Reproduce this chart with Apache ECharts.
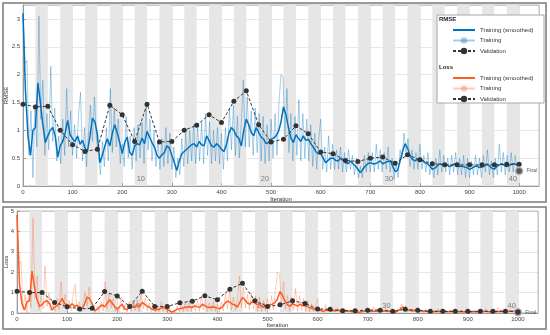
<!DOCTYPE html>
<html><head><meta charset="utf-8">
<script src="https://cdn.jsdelivr.net/npm/echarts@6/dist/echarts.min.js"></script>
<style>html,body{margin:0;padding:0;background:#fff}#c{width:550px;height:335px}</style>
</head><body><div id="c"></div>
<script>
// ---- data ----
const rawStep = 4, smoothStep = 5, valStep = 25;
const itersPerEpoch = 25, numEpochs = 40;
const epochLabels = [10, 20, 30, 40];
const xMax = 1040;
const finalIter = 1000;

const rmseRaw = [3.10,2.20,2.25,0.55,1.35,0.15,1.45,0.70,3.05,1.20,1.90,0.55,1.30,0.65,2.15,0.80,1.40,0.45,0.90,0.40,1.20,0.55,1.75,0.70,1.35,
0.55,1.10,0.50,1.30,1.68,0.45,1.05,0.35,0.95,1.45,0.80,1.60,0.85,0.55,0.20,0.80,0.35,1.05,0.45,1.75,0.60,1.40,0.70,1.20,0.40,
0.75,0.35,1.25,0.50,0.90,0.30,1.05,0.45,1.10,0.50,1.15,0.40,1.50,0.65,1.20,0.45,1.00,0.35,0.80,0.30,0.85,0.35,1.05,0.40,0.95,
0.30,0.70,0.15,0.50,0.20,0.85,0.35,0.95,0.40,1.00,0.45,1.10,0.40,1.05,0.45,1.15,0.40,1.30,0.55,1.15,0.40,1.00,0.45,1.05,0.40,
0.95,0.30,1.05,0.45,1.40,0.65,1.45,0.55,1.25,0.50,1.15,1.90,0.70,1.60,0.70,1.35,0.55,1.40,0.60,1.30,0.45,1.25,0.40,1.10,0.45,
1.20,0.50,1.30,0.55,1.50,2.00,1.95,0.90,1.75,0.60,1.30,0.45,1.25,0.55,1.55,0.45,1.30,0.50,1.20,0.45,1.10,0.35,0.95,0.30,0.85,
1.20,0.30,0.70,0.25,0.90,0.30,0.75,0.30,0.65,0.30,0.70,0.25,0.60,0.25,0.65,0.30,0.55,0.20,0.50,0.15,0.35,0.15,0.55,0.25,0.60,
0.25,0.60,0.25,0.75,0.30,0.65,0.25,0.60,0.30,0.70,0.25,0.50,0.12,0.40,0.15,0.65,0.50,0.95,0.60,0.85,0.35,0.65,0.30,0.60,0.30,
0.75,0.30,0.55,0.25,0.60,0.20,0.45,0.15,0.50,0.20,0.65,0.25,0.55,0.25,0.50,0.20,0.55,0.25,0.60,0.20,0.50,0.20,0.55,0.15,0.50,
0.15,0.45,0.20,0.55,0.20,0.50,0.15,0.55,0.25,0.65,0.20,0.45,0.15,0.50,0.20,0.75,0.25,0.60,0.20,0.55,0.25,0.60,0.25,0.55,0.30,0.40];

const rmseSmooth = [3.10,1.70,0.90,0.55,1.00,1.05,1.85,1.50,1.10,0.78,0.90,1.00,1.05,0.90,0.52,0.72,0.80,0.95,1.18,0.92,
0.85,0.80,0.90,0.75,0.82,0.68,0.62,0.90,1.22,1.15,0.92,0.42,0.55,0.72,0.85,0.72,0.95,1.10,0.95,0.78,
0.58,0.78,0.88,0.60,0.55,0.72,0.76,0.74,0.86,0.76,0.98,0.88,0.78,0.70,0.55,0.50,0.56,0.60,0.72,0.68,
0.55,0.42,0.28,0.45,0.58,0.62,0.66,0.70,0.74,0.76,0.70,0.80,0.74,0.72,0.90,0.82,0.72,0.70,0.76,0.72,
0.66,0.62,0.74,0.95,1.05,1.00,0.90,0.86,0.72,1.00,1.20,1.10,0.96,0.90,1.05,0.96,0.88,0.84,0.76,0.78,
0.84,0.86,0.90,0.98,1.15,1.42,1.28,1.05,0.86,0.78,0.92,0.86,0.80,0.90,0.82,0.84,0.76,0.70,0.62,0.58,
0.58,0.50,0.42,0.46,0.50,0.50,0.46,0.45,0.50,0.46,0.42,0.40,0.45,0.40,0.36,0.30,0.24,0.30,0.36,0.40,
0.42,0.40,0.40,0.42,0.45,0.40,0.42,0.44,0.45,0.36,0.26,0.28,0.45,0.62,0.76,0.68,0.55,0.48,0.45,0.48,
0.50,0.46,0.42,0.40,0.36,0.30,0.32,0.36,0.40,0.38,0.40,0.38,0.35,0.37,0.40,0.38,0.35,0.36,0.34,0.33,
0.30,0.32,0.35,0.36,0.33,0.34,0.36,0.40,0.36,0.32,0.30,0.35,0.38,0.40,0.37,0.35,0.37,0.39,0.40,0.38,
0.38];

const rmseVal = [1.47,1.42,1.43,1.00,0.74,0.62,0.66,1.45,1.28,0.80,1.47,0.79,0.80,1.00,1.09,1.28,1.14,1.52,1.71,1.10,
0.79,0.84,1.08,0.94,0.61,0.58,0.46,0.44,0.50,0.52,0.41,0.56,0.47,0.40,0.38,0.38,0.38,0.38,0.38,0.39,0.39];
const rmseFinal = 0.27;

const lossRaw = [4.81,2.42,2.53,0.15,0.91,0.01,1.05,0.25,4.65,0.72,1.81,0.15,0.85,0.21,2.31,0.32,0.98,0.10,0.41,0.08,0.72,0.15,1.53,0.25,0.91,
0.15,0.61,0.13,0.85,1.41,0.10,0.55,0.06,0.45,1.05,0.32,1.28,0.36,0.15,0.02,0.32,0.06,0.55,0.10,1.53,0.18,0.98,0.25,0.72,0.08,
0.28,0.06,0.78,0.13,0.41,0.05,0.55,0.10,0.61,0.13,0.66,0.08,1.13,0.21,0.72,0.10,0.50,0.06,0.32,0.05,0.36,0.06,0.55,0.08,0.45,
0.05,0.25,0.01,0.13,0.02,0.36,0.06,0.45,0.08,0.50,0.10,0.61,0.08,0.55,0.10,0.66,0.08,0.85,0.15,0.66,0.08,0.50,0.10,0.55,0.08,
0.45,0.05,0.55,0.10,0.98,0.21,1.05,0.15,0.78,0.13,0.66,1.81,0.25,1.28,0.25,0.91,0.15,0.98,0.18,0.85,0.10,0.78,0.08,0.61,0.10,
0.72,0.13,0.85,0.15,1.13,2.00,1.90,0.41,1.53,0.18,0.85,0.10,0.78,0.15,1.20,0.10,0.85,0.13,0.72,0.10,0.61,0.06,0.45,0.05,0.36,
0.72,0.05,0.25,0.03,0.41,0.05,0.28,0.05,0.21,0.05,0.25,0.03,0.18,0.03,0.21,0.05,0.15,0.02,0.13,0.01,0.06,0.01,0.15,0.03,0.18,
0.03,0.18,0.03,0.28,0.05,0.21,0.03,0.18,0.05,0.25,0.03,0.13,0.01,0.08,0.01,0.21,0.13,0.45,0.18,0.36,0.06,0.21,0.05,0.18,0.05,
0.28,0.05,0.15,0.03,0.18,0.02,0.10,0.01,0.13,0.02,0.21,0.03,0.15,0.03,0.13,0.02,0.15,0.03,0.18,0.02,0.13,0.02,0.15,0.01,0.13,
0.01,0.10,0.02,0.15,0.02,0.13,0.01,0.15,0.03,0.21,0.02,0.10,0.01,0.13,0.02,0.28,0.03,0.18,0.02,0.15,0.03,0.18,0.03,0.15,0.05,0.08];

const lossSmooth = [4.80,1.40,0.45,0.15,0.55,0.60,2.05,1.25,0.65,0.32,0.42,0.55,0.60,0.45,0.15,0.30,0.35,0.48,0.72,0.46,
0.40,0.35,0.45,0.32,0.38,0.26,0.22,0.45,0.78,0.70,0.46,0.10,0.18,0.30,0.40,0.30,0.48,0.65,0.48,0.32,
0.18,0.32,0.42,0.20,0.17,0.28,0.31,0.30,0.40,0.31,0.52,0.42,0.33,0.27,0.17,0.14,0.17,0.20,0.28,0.25,
0.17,0.10,0.04,0.12,0.19,0.21,0.24,0.27,0.30,0.31,0.27,0.35,0.30,0.28,0.43,0.36,0.28,0.27,0.31,0.28,
0.24,0.21,0.30,0.48,0.58,0.53,0.43,0.40,0.28,0.53,0.76,0.64,0.49,0.43,0.58,0.49,0.41,0.38,0.31,0.33,
0.38,0.40,0.43,0.51,0.70,1.05,0.86,0.58,0.40,0.33,0.46,0.40,0.34,0.43,0.36,0.37,0.31,0.26,0.21,0.18,
0.18,0.13,0.09,0.11,0.13,0.13,0.11,0.11,0.13,0.11,0.09,0.08,0.11,0.08,0.07,0.05,0.03,0.05,0.07,0.08,
0.09,0.08,0.08,0.09,0.10,0.08,0.09,0.10,0.10,0.07,0.04,0.04,0.10,0.19,0.29,0.23,0.15,0.12,0.10,0.12,
0.13,0.11,0.09,0.08,0.07,0.05,0.05,0.07,0.08,0.07,0.08,0.07,0.06,0.07,0.08,0.07,0.06,0.07,0.06,0.05,
0.05,0.05,0.06,0.07,0.05,0.06,0.07,0.08,0.07,0.05,0.05,0.06,0.07,0.08,0.07,0.06,0.07,0.08,0.08,0.07,
0.07];

const lossVal = [1.07,1.00,1.00,0.52,0.31,0.20,0.23,1.05,0.83,0.32,1.07,0.32,0.32,0.50,0.58,0.84,0.65,1.17,1.46,0.60,
0.32,0.40,0.60,0.47,0.19,0.18,0.11,0.11,0.14,0.14,0.08,0.18,0.13,0.08,0.08,0.08,0.08,0.08,0.08,0.08,0.08];
const lossFinal = 0.04;

const legendText = {
  rmseSmooth: 'Training (smoothed)', rmseRaw: 'Training', rmseVal: 'Validation',
  lossSmooth: 'Training (smoothed)', lossRaw: 'Training', lossVal: 'Validation'
};

// ---- build ----
const FONT = "'Liberation Sans', Arial, Helvetica, sans-serif";
const FS = 6;
const pairs = (arr, step) => arr.map((v, i) => [i * step, v]);
const plain = v => String(v);

function stripes() {
  const out = [];
  for (let e = 2; e <= numEpochs; e += 2) {
    const s = { xAxis: (e - 1) * itersPerEpoch };
    if (epochLabels.includes(e)) { s.name = String(e); s.label = { show: true }; }
    out.push([s, { xAxis: e * itersPerEpoch }]);
  }
  return out;
}

function stripeSeries(gi) {
  return {
    type: 'line', xAxisIndex: gi, yAxisIndex: gi, data: [[0, null]], symbol: 'none', z: -1, silent: true,
    markArea: {
      silent: true, itemStyle: { color: '#e6e6e6' },
      label: { show: false, position: 'insideBottom', distance: 3, color: '#7a7a7a', fontSize: 7.5, fontFamily: FONT, formatter: '{b}' },
      data: stripes()
    }
  };
}

function xAx(gi, gap) {
  return {
    type: 'value', gridIndex: gi, min: 0, max: xMax, interval: 100,
    name: 'Iteration', nameLocation: 'middle', nameGap: gap, nameMoveOverlap: false,
    nameTextStyle: { fontSize: FS, color: '#333', fontFamily: FONT },
    axisLine: { show: true, onZero: false, lineStyle: { color: '#9a9a9a', width: 1 } },
    axisTick: { show: true, inside: true, length: 3, lineStyle: { color: '#9a9a9a' } },
    axisLabel: { fontSize: FS, color: '#444', margin: 3, showMaxLabel: false, fontFamily: FONT, formatter: plain },
    splitLine: { show: true, lineStyle: { color: 'rgba(0,0,0,0.09)', width: 1 } }
  };
}
function yAx(gi, max, interval, name, gap, showMax) {
  return {
    type: 'value', gridIndex: gi, min: 0, max: max, interval: interval,
    name: name, nameLocation: 'middle', nameGap: gap, nameMoveOverlap: false,
    nameTextStyle: { fontSize: FS, color: '#333', fontFamily: FONT },
    axisLine: { show: true, lineStyle: { color: '#9a9a9a', width: 1 } },
    axisTick: { show: true, inside: true, length: 3, lineStyle: { color: '#9a9a9a' } },
    axisLabel: { fontSize: FS, color: '#444', margin: 3, showMaxLabel: showMax, fontFamily: FONT, formatter: plain },
    splitLine: { show: true, lineStyle: { color: 'rgba(0,0,0,0.09)', width: 1 } }
  };
}

function trainSeries(gi, nameRaw, nameSmooth, nameVal, raw, smooth, val, fin, color, lightColor) {
  return [
    { name: nameRaw, type: 'line', xAxisIndex: gi, yAxisIndex: gi, data: pairs(raw, rawStep),
      symbol: 'circle', symbolSize: 5, showSymbol: false, lineStyle: { color: lightColor, width: 1 },
      itemStyle: { color: lightColor }, z: 2, silent: true },
    { name: nameSmooth, type: 'line', xAxisIndex: gi, yAxisIndex: gi, data: pairs(smooth, smoothStep),
      symbol: 'none', lineStyle: { color: color, width: 1.5 }, itemStyle: { color: color }, z: 3, silent: true },
    { name: nameVal, type: 'line', xAxisIndex: gi, yAxisIndex: gi, data: pairs(val, valStep),
      symbol: 'circle', symbolSize: 5, lineStyle: { color: '#333', width: 1, type: [3, 2] },
      itemStyle: { color: '#333' }, z: 4, silent: true },
    { type: 'scatter', xAxisIndex: gi, yAxisIndex: gi, data: [[finalIter, fin]], symbolSize: 7, z: 5, silent: true,
      itemStyle: { color: '#333', borderColor: '#b5b5b5', borderWidth: 1.5 },
      label: { show: true, position: 'right', distance: 3, formatter: 'Final', fontSize: 5, color: '#333', fontFamily: FONT } }
  ];
}

const noDot = { color: 'rgba(0,0,0,0)', borderWidth: 0, opacity: 0 };
const legendCommon = {
  orient: 'vertical', left: 452, itemWidth: 22, itemHeight: 8, itemGap: 2.5, selectedMode: false,
  formatter: n => legendText[n], textStyle: { fontSize: FS, color: '#333', lineHeight: 8, fontFamily: FONT },
  padding: 0, z: 6
};

const chart = echarts.init(document.getElementById('c'), null, { renderer: 'canvas' });
chart.setOption({
  animation: false,
  backgroundColor: '#fff',
  textStyle: { fontFamily: FONT },
  grid: [
    { left: 23, top: 5, width: 516, height: 181, show: true, borderColor: '#bdbdbd', borderWidth: 1, backgroundColor: 'transparent', containLabel: false, outerBoundsMode: 'none' },
    { left: 17, top: 211, width: 521, height: 102, show: true, borderColor: '#bdbdbd', borderWidth: 1, backgroundColor: 'transparent', containLabel: false, outerBoundsMode: 'none' }
  ],
  xAxis: [xAx(0, 10), xAx(1, 9.5)],
  yAxis: [yAx(0, 3.25, 0.5, 'RMSE', 13.5, false), yAx(1, 5, 1, 'Loss', 7.5, true)],
  legend: [
    Object.assign({}, legendCommon, { top: 26, data: [{ name: 'rmseSmooth', itemStyle: noDot }, 'rmseRaw', 'rmseVal'] }),
    Object.assign({}, legendCommon, { top: 74, data: [{ name: 'lossSmooth', itemStyle: noDot }, 'lossRaw', 'lossVal'] })
  ],
  graphic: [
    { type: 'rect', z: 5, shape: { x: 437, y: 15, width: 107, height: 88 }, style: { fill: '#fff', stroke: '#a8a8a8', lineWidth: 1 } },
    { type: 'text', z: 7, x: 439, y: 19, style: { text: 'RMSE', fontSize: FS, fontWeight: 'bold', fontFamily: FONT, fill: '#222', verticalAlign: 'middle' } },
    { type: 'text', z: 7, x: 439, y: 67, style: { text: 'Loss', fontSize: FS, fontWeight: 'bold', fontFamily: FONT, fill: '#222', verticalAlign: 'middle' } },
    { type: 'rect', z: 8, shape: { x: 3, y: 3, width: 543, height: 199 }, style: { fill: 'none', stroke: '#7a7a7a', lineWidth: 1.5 } },
    { type: 'rect', z: 8, shape: { x: 3, y: 207, width: 543, height: 122 }, style: { fill: 'none', stroke: '#7a7a7a', lineWidth: 1.5 } }
  ],
  series: [
    stripeSeries(0), stripeSeries(1),
    ...trainSeries(0, 'rmseRaw', 'rmseSmooth', 'rmseVal', rmseRaw, rmseSmooth, rmseVal, rmseFinal, '#0072BD', 'rgba(0,114,189,0.35)'),
    ...trainSeries(1, 'lossRaw', 'lossSmooth', 'lossVal', lossRaw, lossSmooth, lossVal, lossFinal, '#FF5A1F', 'rgba(255,90,31,0.3)')
  ]
});
</script></body></html>
